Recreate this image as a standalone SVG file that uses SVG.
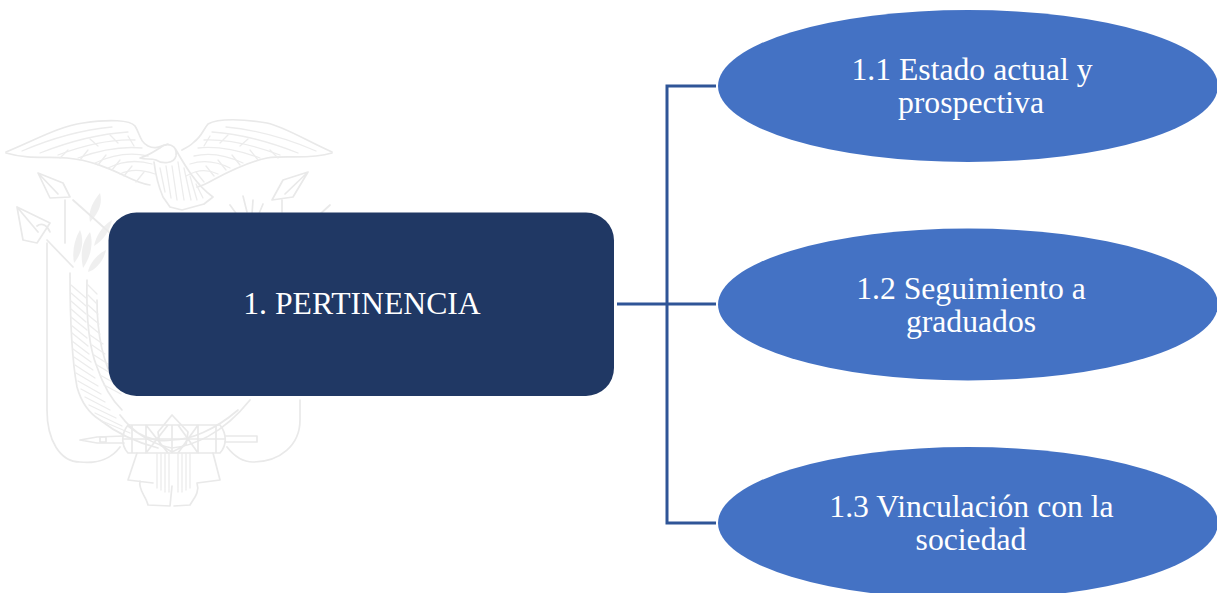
<svg xmlns="http://www.w3.org/2000/svg" width="1217" height="593" viewBox="0 0 1217 593">
<style>
.wm{fill:none;stroke:#e9e9e9;stroke-width:1.7;stroke-linecap:round;stroke-linejoin:round}
.wt{fill:none;stroke:#ececec;stroke-width:1.3;stroke-linecap:round}
.wf{fill:#e9e9e9;stroke:none}
.conn{fill:none;stroke:#2f5597;stroke-width:3}
.oval{fill:#4472c4}
.lbl{font-family:"Liberation Serif","Times New Roman",serif;font-size:31.7px;fill:#fff;text-anchor:middle}
</style>
<rect width="1217" height="593" fill="#fff"/>
<g id="watermark">
<path class="wm" d="M6 152C35 140 60 126 83 123C110 119 130 120 135 126C140 134 140 142 148 146C156 150 160 146 168 144"/>
<path class="wm" d="M332 152C305 140 285 127 267 123C245 119 218 118 208 124C203 130 202 136 194 142C190 146 186 148 182 150"/>
<path class="wm" d="M6 153C30 160 48 156 67 158C90 160 108 168 123 175C133 180 142 184 150 185"/>
<path class="wm" d="M332 153C308 160 288 155 267 158C248 162 228 172 213 180C206 184 202 186 197 187"/>
<path class="wt" d="M22 151C50 139 80 130 112 127M40 153C68 142 96 134 128 132M58 155C82 146 110 139 135 140M78 158C100 150 122 146 142 148M95 163C112 155 130 152 148 156M108 168C122 161 138 160 152 164M120 174C132 168 144 170 155 174"/>
<path class="wt" d="M60 158L68 150M80 160L88 150M98 165L106 155M112 170L120 160M124 176L132 166M136 182L144 172M90 139L98 146M110 135L118 143M128 136L134 146"/>
<path class="wt" d="M316 151C288 139 258 130 226 127M298 153C270 142 242 134 212 132M280 155C256 146 228 139 204 140M260 158C238 150 216 146 198 148M243 163C226 155 210 152 194 156M230 168C216 161 202 160 190 164M218 174C206 168 196 170 186 176"/>
<path class="wt" d="M278 158L270 150M258 160L250 150M240 165L232 155M226 170L218 160M214 176L206 166M204 182L196 172M248 139L240 146M228 135L220 143M210 136L204 146"/>
<path class="wm" d="M140 158C150 155 156 150 160 148C166 142 178 144 176 156C174 164 162 164 156 160C150 158 146 160 140 158ZM154 162C156 178 160 190 163 197L170 207M176 150C184 164 196 185 213 197L204 204M170 207L182 210L204 204"/>
<path class="wt" d="M160 168L165 192M166 166L171 198M172 166L177 200M178 162L184 200M184 168L191 200M190 176L197 200M196 184L203 198"/>
<path class="wm" d="M17 207L50 223L37 243L23 240ZM17 207L38 232M37 226C42 222 48 226 50 232M47 240L73 267"/>
<path class="wm" d="M38 173L63 183L70 197L50 198ZM38 173L58 194M65 200L65 243M73 200L110 233"/>
<path class="wm" d="M308 172L283 180L272 200L293 197ZM308 172L285 194M282 200L282 212M330 205L318 216"/>
<path class="wm" d="M47 243L47 410C47 440 60 462 80 462C98 464 112 458 120 447"/>
<path class="wm" d="M300 400L300 420C300 445 280 462 253 462C242 462 234 456 227 447"/>
<path class="wf" d="M100 193C92 203 88 212 90 222C98 214 103 204 100 193ZM80 230C74 240 72 252 74 263C81 255 85 242 80 230ZM90 232C82 242 80 254 83 268C90 258 94 244 90 232ZM112 220C102 226 96 236 94 246C104 240 110 230 112 220ZM106 250C98 254 90 262 88 272C96 270 104 260 106 250Z" opacity=".75"/>
<path class="wm" d="M70 273C70 320 72 360 77 387C82 405 92 415 100 420C115 432 135 442 158 448M87 280C86 320 90 350 97 367C103 385 112 400 122 410M97 300C97 335 104 365 116 385"/>
<path class="wt" d="M71 285L86 298M71 293L86 306M71 301L86 314M71 309L86 322M71 317L87 330M71 325L87 338M72 333L88 346M72 341L89 354M73 349L91 362M74 357L93 370M75 365L95 378M76 373L98 386M78 381L101 394M81 389L105 402M85 397L110 410M89 405L116 418M95 413L122 426M102 421L130 433M88 285L97 294M88 295L97 304M88 305L98 314M88 315L99 324M89 325L100 334M90 335L103 344M92 345L105 354M94 355L108 364M97 365L112 374M100 375L116 384M104 385L121 394"/>
<path class="wm" d="M120 415C135 435 155 445 172 448C192 446 222 435 250 400M128 426C145 440 160 442 172 440C190 440 215 430 238 410M158 432L172 415L188 432L186 445L172 452L160 445Z"/>
<path class="wm" d="M230 205L238 216M243 196L247 212M253 200L252 214M263 204L258 216"/>
<path class="wm" d="M80 440L97 437L124 436M80 440L97 443L124 443M225 436L257 436L257 442L225 442"/>
<rect class="wm" x="100" y="437" width="6" height="5"/>
<path class="wm" d="M128 425L220 425C227 434 227 445 220 453L128 453C121 445 121 434 128 425ZM132 425L132 453M146 425L146 453M172 425L172 453M198 425L198 453M216 425L216 453M146 425L168 453M168 425L146 453M178 425L198 453M198 425L178 453M124 439L224 439"/>
<path class="wm" d="M137 453L128 480L153 483M213 453L220 480L197 483M140 481C138 490 146 496 148 505L170 506L172 486M197 483C200 492 194 498 190 505L174 506"/>
<path class="wt" d="M157 453L157 488M161 453L161 490M165 453L165 492M169 453L169 492M178 453L178 492M182 453L182 492M186 453L186 490M190 453L190 488"/>
</g>
<g id="connectors">
<path class="conn" d="M617 304H716M716 86H667V523H716"/>
</g>
<g id="node-1">
<rect x="108.500" y="212.500" width="505.500" height="183.500" rx="28" fill="#203864"/>
<text class="lbl" x="362" y="314">1. PERTINENCIA</text>
</g>
<g id="node-1-1">
<ellipse class="oval" cx="968" cy="86" rx="250" ry="76"/>
<text class="lbl" x="972" y="80">1.1 Estado actual y</text>
<text class="lbl" x="971" y="113">prospectiva</text>
</g>
<g id="node-1-2">
<ellipse class="oval" cx="968" cy="304.500" rx="250" ry="76"/>
<text class="lbl" x="971" y="299">1.2 Seguimiento a</text>
<text class="lbl" x="971" y="332">graduados</text>
</g>
<g id="node-1-3">
<ellipse class="oval" cx="968" cy="523" rx="250" ry="76"/>
<text class="lbl" x="971.500" y="517">1.3 Vinculación con la</text>
<text class="lbl" x="971" y="550">sociedad</text>
</g>
</svg>
